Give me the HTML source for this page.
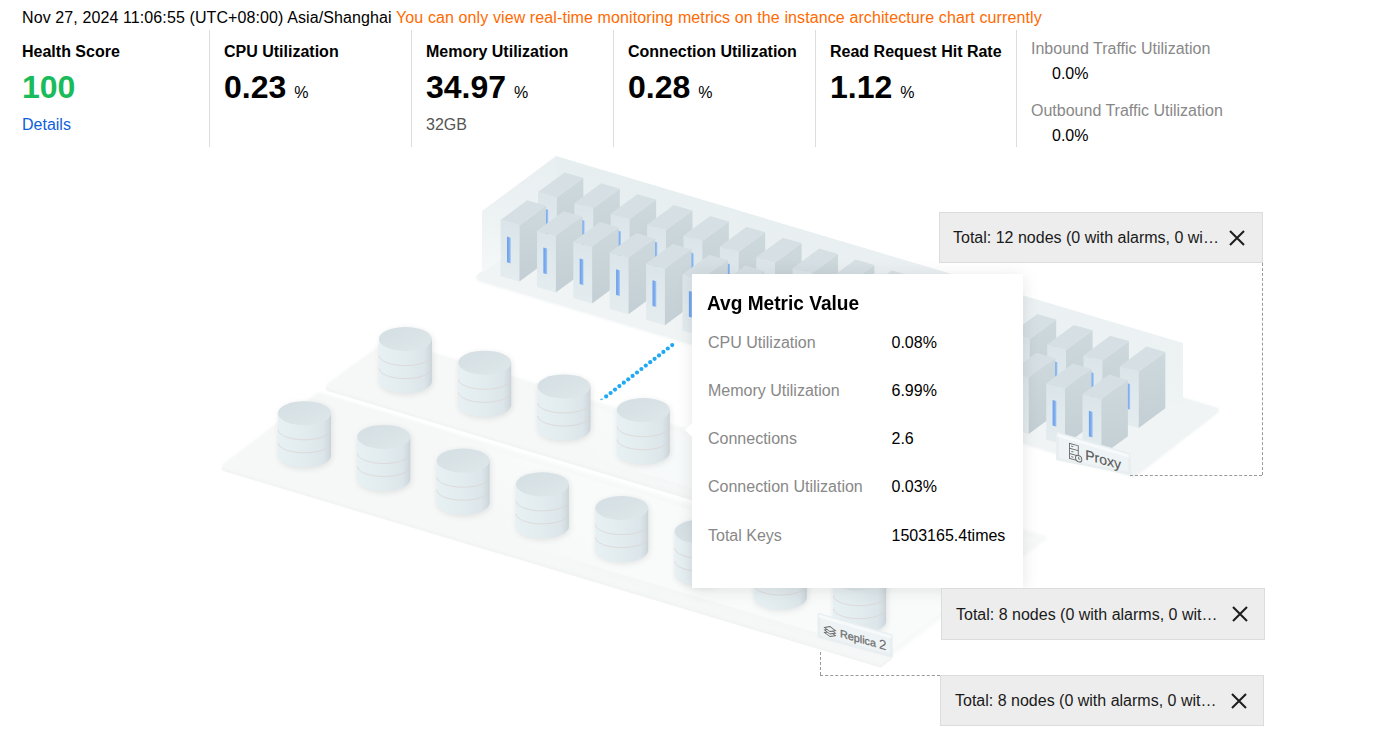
<!DOCTYPE html>
<html><head><meta charset="utf-8">
<style>
html,body{margin:0;padding:0;background:#fff;width:1389px;height:729px;overflow:hidden;position:relative;font-family:"Liberation Sans",sans-serif;color:#000}
.t{position:absolute;white-space:nowrap;line-height:1;font-size:16px}
.b{font-weight:700}
.vd{position:absolute;width:1px;background:#dddddd;top:30px;height:117px}
.big{font-size:32px;font-weight:700}
.pct{font-size:16px;font-weight:400;margin-left:8px}
.gray{color:#888}
.tip{position:absolute;left:692px;top:274px;width:331px;height:314px;background:#fff;box-shadow:0 2px 16px rgba(0,0,0,.10)}
.tip .t{}
.box{position:absolute;background:#ededed;border:1px solid #dcdcdc;box-sizing:border-box}
.box .t{color:#1a1a1a}
.x{position:absolute;width:16px;height:16px}
.dash{position:absolute;border:0 dashed #9a9a9a}
</style></head><body>
<div class="t" style="left:22px;top:9.5px;letter-spacing:0.105px">Nov 27, 2024 11:06:55 (UTC+08:00) Asia/Shanghai <span style="color:#ff6a00">You can only view real-time monitoring metrics on the instance architecture chart currently</span></div>

<div class="vd" style="left:209px"></div>
<div class="vd" style="left:411px"></div>
<div class="vd" style="left:613px"></div>
<div class="vd" style="left:815px"></div>
<div class="vd" style="left:1016px"></div>

<div class="t b" style="left:22px;top:44.3px">Health Score</div>
<div class="t big" style="left:22px;top:70.8px;color:#19bb5a">100</div>
<div class="t" style="left:22px;top:117px;color:#0f5fdc">Details</div>

<div class="t b" style="left:224px;top:44.3px">CPU Utilization</div>
<div class="t big" style="left:224px;top:70.8px">0.23<span class="pct">%</span></div>

<div class="t b" style="left:426px;top:44.3px">Memory Utilization</div>
<div class="t big" style="left:426px;top:70.8px">34.97<span class="pct">%</span></div>
<div class="t" style="left:426px;top:117px;color:#555">32GB</div>

<div class="t b" style="left:628px;top:44.3px">Connection Utilization</div>
<div class="t big" style="left:628px;top:70.8px">0.28<span class="pct">%</span></div>

<div class="t b" style="left:830px;top:44.3px">Read Request Hit Rate</div>
<div class="t big" style="left:830px;top:70.8px">1.12<span class="pct">%</span></div>

<div class="t gray" style="left:1031px;top:40.7px">Inbound Traffic Utilization</div>
<div class="t" style="left:1052px;top:66.3px">0.0%</div>
<div class="t gray" style="left:1031px;top:102.5px">Outbound Traffic Utilization</div>
<div class="t" style="left:1052px;top:127.5px">0.0%</div>

<svg width="1389" height="729" viewBox="0 0 1389 729" style="position:absolute;left:0;top:0"><defs>
<linearGradient id="srvFront" x1="0" y1="0" x2="0" y2="1">
  <stop offset="0" stop-color="#dbe5e9"/><stop offset="1" stop-color="#e4ecef"/></linearGradient>
<linearGradient id="srvSide" x1="0" y1="0" x2="0" y2="1">
  <stop offset="0" stop-color="#ced9dd"/><stop offset="1" stop-color="#c3cfd4"/></linearGradient>
<linearGradient id="led" x1="0" y1="0" x2="1" y2="0">
  <stop offset="0" stop-color="#6a9de8"/><stop offset="0.6" stop-color="#80b0f0"/><stop offset="1" stop-color="#a4c8f4"/></linearGradient>
<linearGradient id="cylBody" x1="0" y1="0" x2="1" y2="0">
  <stop offset="0" stop-color="#e7f0f3"/><stop offset="0.5" stop-color="#e2ebee"/><stop offset="0.85" stop-color="#dce5e9"/><stop offset="0.95" stop-color="#d2dce0"/><stop offset="1" stop-color="#c8d2d7"/></linearGradient>
<linearGradient id="cylTop" x1="0" y1="0" x2="1" y2="1">
  <stop offset="0" stop-color="#d4dfe3"/><stop offset="1" stop-color="#dee7ea"/></linearGradient>
<filter id="blur3" x="-50%" y="-50%" width="200%" height="200%"><feGaussianBlur stdDeviation="3"/></filter>
<filter id="blur1" x="-10%" y="-10%" width="120%" height="120%"><feGaussianBlur stdDeviation="1"/></filter>
<filter id="blur2" x="-50%" y="-50%" width="200%" height="200%"><feGaussianBlur stdDeviation="1.5"/></filter>
<linearGradient id="gLow" gradientUnits="userSpaceOnUse" x1="421.5" y1="527.8" x2="515.5" y2="450.8"><stop offset="0" stop-color="#f6f8f8"/><stop offset="0.45" stop-color="#f6f8f8"/><stop offset="1" stop-color="#f6f8f8" stop-opacity="0.7"/></linearGradient><linearGradient id="gUp" gradientUnits="userSpaceOnUse" x1="525.5" y1="447.8" x2="585.5" y2="397.8"><stop offset="0" stop-color="#f6f8f8"/><stop offset="0.45" stop-color="#f6f8f8"/><stop offset="1" stop-color="#f6f8f8" stop-opacity="0.8"/></linearGradient><linearGradient id="glass" x1="0" y1="0" x2="0" y2="1"><stop offset="0" stop-color="#e7eef0"/><stop offset="1" stop-color="#eef3f4"/></linearGradient><linearGradient id="glassL" x1="0" y1="0" x2="0" y2="1"><stop offset="0" stop-color="#e8eff1"/><stop offset="0.6" stop-color="#eef3f4"/><stop offset="1" stop-color="#f5f8f8"/></linearGradient></defs><polygon points="225.0,468.5 880.0,664.5 889.4,657.4 234.4,461.4" fill="#f2f4f4" stroke="#f2f4f4" stroke-width="6" stroke-linejoin="round"/><polygon points="225.0,466.0 880.0,662.0 974.0,591.0 319.0,395.0" fill="url(#gLow)" stroke="url(#gLow)" stroke-width="6" stroke-linejoin="round" filter="url(#blur1)"/><polygon points="329.0,388.5 984.0,584.5 990.0,580.1 335.0,384.1" fill="#f2f4f4" stroke="#f2f4f4" stroke-width="6" stroke-linejoin="round"/><polygon points="329.0,386.0 984.0,582.0 1044.0,538.0 389.0,342.0" fill="url(#gUp)" stroke="url(#gUp)" stroke-width="6" stroke-linejoin="round" filter="url(#blur1)"/><polygon points="479.0,278.5 1134.0,474.5 1216.0,410.5 561.0,214.5" fill="#e9eef0" stroke="#e9eef0" stroke-width="5" stroke-linejoin="round" filter="url(#blur2)" opacity="0.8"/><polygon points="479.0,276.5 1134.0,472.5 1216.0,410.5 561.0,214.5" fill="#f0f4f5" stroke="#f0f4f5" stroke-width="5" stroke-linejoin="round"/><polygon points="556.0,156.0 1183.0,343.0 1183.0,405.0 556.0,218.0" fill="url(#glass)"/><polygon points="482.0,211.0 556.0,156.0 556.0,218.0 482.0,273.0" fill="url(#glassL)"/><polygon points="538.0,192.0 556.8,197.4 556.8,253.7 538.0,248.3" fill="url(#srvFront)"/><polygon points="556.8,197.4 583.4,177.8 583.4,234.1 556.8,253.7" fill="url(#srvSide)"/><polygon points="538.0,192.0 564.6,172.4 583.4,177.8 556.8,197.4" fill="#d6e0e4"/><polygon points="544.4,208.7 548.2,209.8 548.2,235.5 544.4,234.4" fill="url(#led)"/><polygon points="574.4,202.9 593.2,208.3 593.2,264.6 574.4,259.2" fill="url(#srvFront)"/><polygon points="593.2,208.3 619.8,188.7 619.8,245.0 593.2,264.6" fill="url(#srvSide)"/><polygon points="574.4,202.9 601.0,183.3 619.8,188.7 593.2,208.3" fill="#d6e0e4"/><polygon points="580.8,219.6 584.6,220.7 584.6,246.4 580.8,245.3" fill="url(#led)"/><polygon points="610.7,213.8 629.5,219.2 629.5,275.5 610.7,270.1" fill="url(#srvFront)"/><polygon points="629.5,219.2 656.1,199.6 656.1,255.9 629.5,275.5" fill="url(#srvSide)"/><polygon points="610.7,213.8 637.3,194.2 656.1,199.6 629.5,219.2" fill="#d6e0e4"/><polygon points="617.1,230.5 620.9,231.6 620.9,257.3 617.1,256.2" fill="url(#led)"/><polygon points="647.1,224.7 665.9,230.1 665.9,286.4 647.1,281.0" fill="url(#srvFront)"/><polygon points="665.9,230.1 692.5,210.5 692.5,266.8 665.9,286.4" fill="url(#srvSide)"/><polygon points="647.1,224.7 673.7,205.1 692.5,210.5 665.9,230.1" fill="#d6e0e4"/><polygon points="653.5,241.4 657.3,242.5 657.3,268.2 653.5,267.1" fill="url(#led)"/><polygon points="683.5,235.6 702.3,241.0 702.3,297.3 683.5,291.9" fill="url(#srvFront)"/><polygon points="702.3,241.0 728.9,221.4 728.9,277.7 702.3,297.3" fill="url(#srvSide)"/><polygon points="683.5,235.6 710.1,216.0 728.9,221.4 702.3,241.0" fill="#d6e0e4"/><polygon points="689.9,252.3 693.7,253.4 693.7,279.1 689.9,278.0" fill="url(#led)"/><polygon points="719.9,246.4 738.6,251.8 738.6,308.1 719.9,302.8" fill="url(#srvFront)"/><polygon points="738.6,251.8 765.2,232.2 765.2,288.6 738.6,308.1" fill="url(#srvSide)"/><polygon points="719.9,246.4 746.5,226.8 765.2,232.2 738.6,251.8" fill="#d6e0e4"/><polygon points="726.2,263.1 730.0,264.2 730.0,289.9 726.2,288.8" fill="url(#led)"/><polygon points="756.2,257.3 775.0,262.7 775.0,319.0 756.2,313.6" fill="url(#srvFront)"/><polygon points="775.0,262.7 801.6,243.1 801.6,299.4 775.0,319.0" fill="url(#srvSide)"/><polygon points="756.2,257.3 782.8,237.7 801.6,243.1 775.0,262.7" fill="#d6e0e4"/><polygon points="762.6,274.0 766.4,275.1 766.4,300.8 762.6,299.7" fill="url(#led)"/><polygon points="792.6,268.2 811.4,273.6 811.4,329.9 792.6,324.5" fill="url(#srvFront)"/><polygon points="811.4,273.6 838.0,254.0 838.0,310.3 811.4,329.9" fill="url(#srvSide)"/><polygon points="792.6,268.2 819.2,248.6 838.0,254.0 811.4,273.6" fill="#d6e0e4"/><polygon points="799.0,284.9 802.8,286.0 802.8,311.7 799.0,310.6" fill="url(#led)"/><polygon points="829.0,279.1 847.8,284.5 847.8,340.8 829.0,335.4" fill="url(#srvFront)"/><polygon points="847.8,284.5 874.4,264.9 874.4,321.2 847.8,340.8" fill="url(#srvSide)"/><polygon points="829.0,279.1 855.6,259.5 874.4,264.9 847.8,284.5" fill="#d6e0e4"/><polygon points="835.4,295.8 839.2,296.9 839.2,322.6 835.4,321.5" fill="url(#led)"/><polygon points="865.3,290.0 884.1,295.4 884.1,351.7 865.3,346.3" fill="url(#srvFront)"/><polygon points="884.1,295.4 910.7,275.8 910.7,332.1 884.1,351.7" fill="url(#srvSide)"/><polygon points="865.3,290.0 891.9,270.4 910.7,275.8 884.1,295.4" fill="#d6e0e4"/><polygon points="871.7,306.7 875.5,307.8 875.5,333.5 871.7,332.4" fill="url(#led)"/><polygon points="901.7,300.9 920.5,306.3 920.5,362.6 901.7,357.2" fill="url(#srvFront)"/><polygon points="920.5,306.3 947.1,286.7 947.1,343.0 920.5,362.6" fill="url(#srvSide)"/><polygon points="901.7,300.9 928.3,281.3 947.1,286.7 920.5,306.3" fill="#d6e0e4"/><polygon points="908.1,317.6 911.9,318.7 911.9,344.4 908.1,343.3" fill="url(#led)"/><polygon points="938.1,311.8 956.9,317.2 956.9,373.5 938.1,368.1" fill="url(#srvFront)"/><polygon points="956.9,317.2 983.5,297.6 983.5,353.9 956.9,373.5" fill="url(#srvSide)"/><polygon points="938.1,311.8 964.7,292.2 983.5,297.6 956.9,317.2" fill="#d6e0e4"/><polygon points="944.5,328.5 948.3,329.6 948.3,355.3 944.5,354.2" fill="url(#led)"/><polygon points="974.4,322.7 993.2,328.1 993.2,384.4 974.4,379.0" fill="url(#srvFront)"/><polygon points="993.2,328.1 1019.8,308.5 1019.8,364.8 993.2,384.4" fill="url(#srvSide)"/><polygon points="974.4,322.7 1001.0,303.1 1019.8,308.5 993.2,328.1" fill="#d6e0e4"/><polygon points="980.8,339.4 984.6,340.5 984.6,366.2 980.8,365.1" fill="url(#led)"/><polygon points="1010.8,333.6 1029.6,339.0 1029.6,395.3 1010.8,389.9" fill="url(#srvFront)"/><polygon points="1029.6,339.0 1056.2,319.4 1056.2,375.7 1029.6,395.3" fill="url(#srvSide)"/><polygon points="1010.8,333.6 1037.4,314.0 1056.2,319.4 1029.6,339.0" fill="#d6e0e4"/><polygon points="1017.2,350.3 1021.0,351.4 1021.0,377.1 1017.2,376.0" fill="url(#led)"/><polygon points="1047.2,344.5 1066.0,349.9 1066.0,406.2 1047.2,400.8" fill="url(#srvFront)"/><polygon points="1066.0,349.9 1092.6,330.3 1092.6,386.6 1066.0,406.2" fill="url(#srvSide)"/><polygon points="1047.2,344.5 1073.8,324.9 1092.6,330.3 1066.0,349.9" fill="#d6e0e4"/><polygon points="1053.6,361.2 1057.4,362.3 1057.4,388.0 1053.6,386.9" fill="url(#led)"/><polygon points="1083.5,355.4 1102.3,360.8 1102.3,417.1 1083.5,411.7" fill="url(#srvFront)"/><polygon points="1102.3,360.8 1128.9,341.1 1128.9,397.4 1102.3,417.1" fill="url(#srvSide)"/><polygon points="1083.5,355.4 1110.1,335.8 1128.9,341.1 1102.3,360.8" fill="#d6e0e4"/><polygon points="1090.0,372.1 1093.8,373.1 1093.8,398.8 1090.0,397.8" fill="url(#led)"/><polygon points="1119.9,366.2 1138.7,371.6 1138.7,427.9 1119.9,422.5" fill="url(#srvFront)"/><polygon points="1138.7,371.6 1165.3,352.0 1165.3,408.3 1138.7,427.9" fill="url(#srvSide)"/><polygon points="1119.9,366.2 1146.5,346.6 1165.3,352.0 1138.7,371.6" fill="#d6e0e4"/><polygon points="1126.3,382.9 1130.1,384.0 1130.1,409.7 1126.3,408.6" fill="url(#led)"/><polygon points="500.6,219.9 519.4,225.3 519.4,281.6 500.6,276.2" fill="url(#srvFront)"/><polygon points="519.4,225.3 546.0,205.7 546.0,262.0 519.4,281.6" fill="url(#srvSide)"/><polygon points="500.6,219.9 527.2,200.3 546.0,205.7 519.4,225.3" fill="#d6e0e4"/><polygon points="507.0,236.6 510.8,237.7 510.8,263.4 507.0,262.3" fill="url(#led)"/><polygon points="537.0,230.8 555.8,236.2 555.8,292.5 537.0,287.1" fill="url(#srvFront)"/><polygon points="555.8,236.2 582.4,216.6 582.4,272.9 555.8,292.5" fill="url(#srvSide)"/><polygon points="537.0,230.8 563.6,211.2 582.4,216.6 555.8,236.2" fill="#d6e0e4"/><polygon points="543.4,247.5 547.2,248.6 547.2,274.3 543.4,273.2" fill="url(#led)"/><polygon points="573.3,241.7 592.1,247.1 592.1,303.4 573.3,298.0" fill="url(#srvFront)"/><polygon points="592.1,247.1 618.7,227.5 618.7,283.8 592.1,303.4" fill="url(#srvSide)"/><polygon points="573.3,241.7 599.9,222.1 618.7,227.5 592.1,247.1" fill="#d6e0e4"/><polygon points="579.7,258.4 583.5,259.5 583.5,285.2 579.7,284.1" fill="url(#led)"/><polygon points="609.7,252.6 628.5,258.0 628.5,314.3 609.7,308.9" fill="url(#srvFront)"/><polygon points="628.5,258.0 655.1,238.4 655.1,294.7 628.5,314.3" fill="url(#srvSide)"/><polygon points="609.7,252.6 636.3,233.0 655.1,238.4 628.5,258.0" fill="#d6e0e4"/><polygon points="616.1,269.3 619.9,270.4 619.9,296.1 616.1,295.0" fill="url(#led)"/><polygon points="646.1,263.5 664.9,268.9 664.9,325.2 646.1,319.8" fill="url(#srvFront)"/><polygon points="664.9,268.9 691.5,249.3 691.5,305.6 664.9,325.2" fill="url(#srvSide)"/><polygon points="646.1,263.5 672.7,243.9 691.5,249.3 664.9,268.9" fill="#d6e0e4"/><polygon points="652.5,280.2 656.3,281.3 656.3,307.0 652.5,305.9" fill="url(#led)"/><polygon points="682.5,274.4 701.2,279.8 701.2,336.1 682.5,330.7" fill="url(#srvFront)"/><polygon points="701.2,279.8 727.9,260.1 727.9,316.4 701.2,336.1" fill="url(#srvSide)"/><polygon points="682.5,274.4 709.1,254.8 727.9,260.1 701.2,279.8" fill="#d6e0e4"/><polygon points="688.9,291.1 692.6,292.1 692.6,317.8 688.9,316.8" fill="url(#led)"/><polygon points="718.8,285.2 737.6,290.6 737.6,346.9 718.8,341.5" fill="url(#srvFront)"/><polygon points="737.6,290.6 764.2,271.0 764.2,327.3 737.6,346.9" fill="url(#srvSide)"/><polygon points="718.8,285.2 745.4,265.6 764.2,271.0 737.6,290.6" fill="#d6e0e4"/><polygon points="725.2,301.9 729.0,303.0 729.0,328.7 725.2,327.6" fill="url(#led)"/><polygon points="755.2,296.1 774.0,301.5 774.0,357.8 755.2,352.4" fill="url(#srvFront)"/><polygon points="774.0,301.5 800.6,281.9 800.6,338.2 774.0,357.8" fill="url(#srvSide)"/><polygon points="755.2,296.1 781.8,276.5 800.6,281.9 774.0,301.5" fill="#d6e0e4"/><polygon points="761.6,312.8 765.4,313.9 765.4,339.6 761.6,338.5" fill="url(#led)"/><polygon points="791.6,307.0 810.4,312.4 810.4,368.7 791.6,363.3" fill="url(#srvFront)"/><polygon points="810.4,312.4 837.0,292.8 837.0,349.1 810.4,368.7" fill="url(#srvSide)"/><polygon points="791.6,307.0 818.2,287.4 837.0,292.8 810.4,312.4" fill="#d6e0e4"/><polygon points="798.0,323.7 801.8,324.8 801.8,350.5 798.0,349.4" fill="url(#led)"/><polygon points="827.9,317.9 846.7,323.3 846.7,379.6 827.9,374.2" fill="url(#srvFront)"/><polygon points="846.7,323.3 873.3,303.7 873.3,360.0 846.7,379.6" fill="url(#srvSide)"/><polygon points="827.9,317.9 854.5,298.3 873.3,303.7 846.7,323.3" fill="#d6e0e4"/><polygon points="834.3,334.6 838.1,335.7 838.1,361.4 834.3,360.3" fill="url(#led)"/><polygon points="864.3,328.8 883.1,334.2 883.1,390.5 864.3,385.1" fill="url(#srvFront)"/><polygon points="883.1,334.2 909.7,314.6 909.7,370.9 883.1,390.5" fill="url(#srvSide)"/><polygon points="864.3,328.8 890.9,309.2 909.7,314.6 883.1,334.2" fill="#d6e0e4"/><polygon points="870.7,345.5 874.5,346.6 874.5,372.3 870.7,371.2" fill="url(#led)"/><polygon points="900.7,339.7 919.5,345.1 919.5,401.4 900.7,396.0" fill="url(#srvFront)"/><polygon points="919.5,345.1 946.1,325.5 946.1,381.8 919.5,401.4" fill="url(#srvSide)"/><polygon points="900.7,339.7 927.3,320.1 946.1,325.5 919.5,345.1" fill="#d6e0e4"/><polygon points="907.1,356.4 910.9,357.5 910.9,383.2 907.1,382.1" fill="url(#led)"/><polygon points="937.0,350.6 955.8,356.0 955.8,412.3 937.0,406.9" fill="url(#srvFront)"/><polygon points="955.8,356.0 982.4,336.4 982.4,392.7 955.8,412.3" fill="url(#srvSide)"/><polygon points="937.0,350.6 963.6,331.0 982.4,336.4 955.8,356.0" fill="#d6e0e4"/><polygon points="943.4,367.3 947.2,368.4 947.2,394.1 943.4,393.0" fill="url(#led)"/><polygon points="973.4,361.5 992.2,366.9 992.2,423.2 973.4,417.8" fill="url(#srvFront)"/><polygon points="992.2,366.9 1018.8,347.3 1018.8,403.6 992.2,423.2" fill="url(#srvSide)"/><polygon points="973.4,361.5 1000.0,341.9 1018.8,347.3 992.2,366.9" fill="#d6e0e4"/><polygon points="979.8,378.2 983.6,379.3 983.6,405.0 979.8,403.9" fill="url(#led)"/><polygon points="1009.8,372.4 1028.6,377.8 1028.6,434.1 1009.8,428.7" fill="url(#srvFront)"/><polygon points="1028.6,377.8 1055.2,358.2 1055.2,414.5 1028.6,434.1" fill="url(#srvSide)"/><polygon points="1009.8,372.4 1036.4,352.8 1055.2,358.2 1028.6,377.8" fill="#d6e0e4"/><polygon points="1016.2,389.1 1020.0,390.2 1020.0,415.9 1016.2,414.8" fill="url(#led)"/><polygon points="1046.2,383.2 1065.0,388.6 1065.0,444.9 1046.2,439.6" fill="url(#srvFront)"/><polygon points="1065.0,388.6 1091.5,369.0 1091.5,425.3 1065.0,444.9" fill="url(#srvSide)"/><polygon points="1046.2,383.2 1072.8,363.6 1091.5,369.0 1065.0,388.6" fill="#d6e0e4"/><polygon points="1052.6,399.9 1056.4,401.0 1056.4,426.7 1052.6,425.6" fill="url(#led)"/><polygon points="1082.5,394.1 1101.3,399.5 1101.3,455.8 1082.5,450.4" fill="url(#srvFront)"/><polygon points="1101.3,399.5 1127.9,379.9 1127.9,436.2 1101.3,455.8" fill="url(#srvSide)"/><polygon points="1082.5,394.1 1109.1,374.5 1127.9,379.9 1101.3,399.5" fill="#d6e0e4"/><polygon points="1088.9,410.8 1092.7,411.9 1092.7,437.6 1088.9,436.5" fill="url(#led)"/><path d="M378.9,339.0 V381.2 A26.5,12.0 0 0 0 431.9,381.2 V339.0 A26.5,12.0 0 0 0 378.9,339.0 Z" fill="#000" opacity="0.09" filter="url(#blur3)" transform="translate(1,1.5)"/><path d="M378.9,339.0 V381.2 A26.5,12.0 0 0 0 431.9,381.2 V339.0 Z" fill="url(#cylBody)"/><path d="M379.2,355.6 A26.2,10 0 0 0 431.6,355.6" fill="none" stroke="#dbd3d0" stroke-width="0.7"/><path d="M379.2,368.6 A26.2,10 0 0 0 431.6,368.6" fill="none" stroke="#dbd3d0" stroke-width="0.7"/><ellipse cx="405.4" cy="339.0" rx="26.5" ry="12.0" fill="url(#cylTop)"/><path d="M458.2,362.7 V404.9 A26.5,12.0 0 0 0 511.2,404.9 V362.7 A26.5,12.0 0 0 0 458.2,362.7 Z" fill="#000" opacity="0.09" filter="url(#blur3)" transform="translate(1,1.5)"/><path d="M458.2,362.7 V404.9 A26.5,12.0 0 0 0 511.2,404.9 V362.7 Z" fill="url(#cylBody)"/><path d="M458.5,379.3 A26.2,10 0 0 0 510.9,379.3" fill="none" stroke="#dbd3d0" stroke-width="0.7"/><path d="M458.5,392.3 A26.2,10 0 0 0 510.9,392.3" fill="none" stroke="#dbd3d0" stroke-width="0.7"/><ellipse cx="484.7" cy="362.7" rx="26.5" ry="12.0" fill="url(#cylTop)"/><path d="M537.5,386.4 V428.6 A26.5,12.0 0 0 0 590.5,428.6 V386.4 A26.5,12.0 0 0 0 537.5,386.4 Z" fill="#000" opacity="0.09" filter="url(#blur3)" transform="translate(1,1.5)"/><path d="M537.5,386.4 V428.6 A26.5,12.0 0 0 0 590.5,428.6 V386.4 Z" fill="url(#cylBody)"/><path d="M537.8,403.0 A26.2,10 0 0 0 590.2,403.0" fill="none" stroke="#dbd3d0" stroke-width="0.7"/><path d="M537.8,416.0 A26.2,10 0 0 0 590.2,416.0" fill="none" stroke="#dbd3d0" stroke-width="0.7"/><ellipse cx="564.0" cy="386.4" rx="26.5" ry="12.0" fill="url(#cylTop)"/><path d="M616.8,410.1 V452.3 A26.5,12.0 0 0 0 669.8,452.3 V410.1 A26.5,12.0 0 0 0 616.8,410.1 Z" fill="#000" opacity="0.09" filter="url(#blur3)" transform="translate(1,1.5)"/><path d="M616.8,410.1 V452.3 A26.5,12.0 0 0 0 669.8,452.3 V410.1 Z" fill="url(#cylBody)"/><path d="M617.1,426.7 A26.2,10 0 0 0 669.5,426.7" fill="none" stroke="#dbd3d0" stroke-width="0.7"/><path d="M617.1,439.7 A26.2,10 0 0 0 669.5,439.7" fill="none" stroke="#dbd3d0" stroke-width="0.7"/><ellipse cx="643.3" cy="410.1" rx="26.5" ry="12.0" fill="url(#cylTop)"/><path d="M696.1,433.8 V476.0 A26.5,12.0 0 0 0 749.1,476.0 V433.8 A26.5,12.0 0 0 0 696.1,433.8 Z" fill="#000" opacity="0.09" filter="url(#blur3)" transform="translate(1,1.5)"/><path d="M696.1,433.8 V476.0 A26.5,12.0 0 0 0 749.1,476.0 V433.8 Z" fill="url(#cylBody)"/><path d="M696.4,450.4 A26.2,10 0 0 0 748.8,450.4" fill="none" stroke="#dbd3d0" stroke-width="0.7"/><path d="M696.4,463.4 A26.2,10 0 0 0 748.8,463.4" fill="none" stroke="#dbd3d0" stroke-width="0.7"/><ellipse cx="722.6" cy="433.8" rx="26.5" ry="12.0" fill="url(#cylTop)"/><path d="M775.4,457.5 V499.7 A26.5,12.0 0 0 0 828.4,499.7 V457.5 A26.5,12.0 0 0 0 775.4,457.5 Z" fill="#000" opacity="0.09" filter="url(#blur3)" transform="translate(1,1.5)"/><path d="M775.4,457.5 V499.7 A26.5,12.0 0 0 0 828.4,499.7 V457.5 Z" fill="url(#cylBody)"/><path d="M775.7,474.1 A26.2,10 0 0 0 828.1,474.1" fill="none" stroke="#dbd3d0" stroke-width="0.7"/><path d="M775.7,487.1 A26.2,10 0 0 0 828.1,487.1" fill="none" stroke="#dbd3d0" stroke-width="0.7"/><ellipse cx="801.9" cy="457.5" rx="26.5" ry="12.0" fill="url(#cylTop)"/><path d="M854.7,481.2 V523.4 A26.5,12.0 0 0 0 907.7,523.4 V481.2 A26.5,12.0 0 0 0 854.7,481.2 Z" fill="#000" opacity="0.09" filter="url(#blur3)" transform="translate(1,1.5)"/><path d="M854.7,481.2 V523.4 A26.5,12.0 0 0 0 907.7,523.4 V481.2 Z" fill="url(#cylBody)"/><path d="M855.0,497.8 A26.2,10 0 0 0 907.4,497.8" fill="none" stroke="#dbd3d0" stroke-width="0.7"/><path d="M855.0,510.8 A26.2,10 0 0 0 907.4,510.8" fill="none" stroke="#dbd3d0" stroke-width="0.7"/><ellipse cx="881.2" cy="481.2" rx="26.5" ry="12.0" fill="url(#cylTop)"/><path d="M934.0,504.9 V547.1 A26.5,12.0 0 0 0 987.0,547.1 V504.9 A26.5,12.0 0 0 0 934.0,504.9 Z" fill="#000" opacity="0.09" filter="url(#blur3)" transform="translate(1,1.5)"/><path d="M934.0,504.9 V547.1 A26.5,12.0 0 0 0 987.0,547.1 V504.9 Z" fill="url(#cylBody)"/><path d="M934.3,521.5 A26.2,10 0 0 0 986.7,521.5" fill="none" stroke="#dbd3d0" stroke-width="0.7"/><path d="M934.3,534.5 A26.2,10 0 0 0 986.7,534.5" fill="none" stroke="#dbd3d0" stroke-width="0.7"/><ellipse cx="960.5" cy="504.9" rx="26.5" ry="12.0" fill="url(#cylTop)"/><path d="M278.0,413.2 V455.4 A26.5,12.0 0 0 0 331.0,455.4 V413.2 A26.5,12.0 0 0 0 278.0,413.2 Z" fill="#000" opacity="0.09" filter="url(#blur3)" transform="translate(1,1.5)"/><path d="M278.0,413.2 V455.4 A26.5,12.0 0 0 0 331.0,455.4 V413.2 Z" fill="url(#cylBody)"/><path d="M278.3,429.8 A26.2,10 0 0 0 330.7,429.8" fill="none" stroke="#dbd3d0" stroke-width="0.7"/><path d="M278.3,442.8 A26.2,10 0 0 0 330.7,442.8" fill="none" stroke="#dbd3d0" stroke-width="0.7"/><ellipse cx="304.5" cy="413.2" rx="26.5" ry="12.0" fill="url(#cylTop)"/><path d="M357.3,436.9 V479.1 A26.5,12.0 0 0 0 410.3,479.1 V436.9 A26.5,12.0 0 0 0 357.3,436.9 Z" fill="#000" opacity="0.09" filter="url(#blur3)" transform="translate(1,1.5)"/><path d="M357.3,436.9 V479.1 A26.5,12.0 0 0 0 410.3,479.1 V436.9 Z" fill="url(#cylBody)"/><path d="M357.6,453.5 A26.2,10 0 0 0 410.0,453.5" fill="none" stroke="#dbd3d0" stroke-width="0.7"/><path d="M357.6,466.5 A26.2,10 0 0 0 410.0,466.5" fill="none" stroke="#dbd3d0" stroke-width="0.7"/><ellipse cx="383.8" cy="436.9" rx="26.5" ry="12.0" fill="url(#cylTop)"/><path d="M436.6,460.6 V502.8 A26.5,12.0 0 0 0 489.6,502.8 V460.6 A26.5,12.0 0 0 0 436.6,460.6 Z" fill="#000" opacity="0.09" filter="url(#blur3)" transform="translate(1,1.5)"/><path d="M436.6,460.6 V502.8 A26.5,12.0 0 0 0 489.6,502.8 V460.6 Z" fill="url(#cylBody)"/><path d="M436.9,477.2 A26.2,10 0 0 0 489.3,477.2" fill="none" stroke="#dbd3d0" stroke-width="0.7"/><path d="M436.9,490.2 A26.2,10 0 0 0 489.3,490.2" fill="none" stroke="#dbd3d0" stroke-width="0.7"/><ellipse cx="463.1" cy="460.6" rx="26.5" ry="12.0" fill="url(#cylTop)"/><path d="M515.9,484.3 V526.5 A26.5,12.0 0 0 0 568.9,526.5 V484.3 A26.5,12.0 0 0 0 515.9,484.3 Z" fill="#000" opacity="0.09" filter="url(#blur3)" transform="translate(1,1.5)"/><path d="M515.9,484.3 V526.5 A26.5,12.0 0 0 0 568.9,526.5 V484.3 Z" fill="url(#cylBody)"/><path d="M516.2,500.9 A26.2,10 0 0 0 568.6,500.9" fill="none" stroke="#dbd3d0" stroke-width="0.7"/><path d="M516.2,513.9 A26.2,10 0 0 0 568.6,513.9" fill="none" stroke="#dbd3d0" stroke-width="0.7"/><ellipse cx="542.4" cy="484.3" rx="26.5" ry="12.0" fill="url(#cylTop)"/><path d="M595.2,508.0 V550.2 A26.5,12.0 0 0 0 648.2,550.2 V508.0 A26.5,12.0 0 0 0 595.2,508.0 Z" fill="#000" opacity="0.09" filter="url(#blur3)" transform="translate(1,1.5)"/><path d="M595.2,508.0 V550.2 A26.5,12.0 0 0 0 648.2,550.2 V508.0 Z" fill="url(#cylBody)"/><path d="M595.5,524.6 A26.2,10 0 0 0 647.9,524.6" fill="none" stroke="#dbd3d0" stroke-width="0.7"/><path d="M595.5,537.6 A26.2,10 0 0 0 647.9,537.6" fill="none" stroke="#dbd3d0" stroke-width="0.7"/><ellipse cx="621.7" cy="508.0" rx="26.5" ry="12.0" fill="url(#cylTop)"/><path d="M674.5,531.7 V573.9 A26.5,12.0 0 0 0 727.5,573.9 V531.7 A26.5,12.0 0 0 0 674.5,531.7 Z" fill="#000" opacity="0.09" filter="url(#blur3)" transform="translate(1,1.5)"/><path d="M674.5,531.7 V573.9 A26.5,12.0 0 0 0 727.5,573.9 V531.7 Z" fill="url(#cylBody)"/><path d="M674.8,548.3 A26.2,10 0 0 0 727.2,548.3" fill="none" stroke="#dbd3d0" stroke-width="0.7"/><path d="M674.8,561.3 A26.2,10 0 0 0 727.2,561.3" fill="none" stroke="#dbd3d0" stroke-width="0.7"/><ellipse cx="701.0" cy="531.7" rx="26.5" ry="12.0" fill="url(#cylTop)"/><path d="M753.8,555.4 V597.6 A26.5,12.0 0 0 0 806.8,597.6 V555.4 A26.5,12.0 0 0 0 753.8,555.4 Z" fill="#000" opacity="0.09" filter="url(#blur3)" transform="translate(1,1.5)"/><path d="M753.8,555.4 V597.6 A26.5,12.0 0 0 0 806.8,597.6 V555.4 Z" fill="url(#cylBody)"/><path d="M754.1,572.0 A26.2,10 0 0 0 806.5,572.0" fill="none" stroke="#dbd3d0" stroke-width="0.7"/><path d="M754.1,585.0 A26.2,10 0 0 0 806.5,585.0" fill="none" stroke="#dbd3d0" stroke-width="0.7"/><ellipse cx="780.3" cy="555.4" rx="26.5" ry="12.0" fill="url(#cylTop)"/><path d="M833.1,579.1 V621.3 A26.5,12.0 0 0 0 886.1,621.3 V579.1 A26.5,12.0 0 0 0 833.1,579.1 Z" fill="#000" opacity="0.09" filter="url(#blur3)" transform="translate(1,1.5)"/><path d="M833.1,579.1 V621.3 A26.5,12.0 0 0 0 886.1,621.3 V579.1 Z" fill="url(#cylBody)"/><path d="M833.4,595.7 A26.2,10 0 0 0 885.8,595.7" fill="none" stroke="#dbd3d0" stroke-width="0.7"/><path d="M833.4,608.7 A26.2,10 0 0 0 885.8,608.7" fill="none" stroke="#dbd3d0" stroke-width="0.7"/><ellipse cx="859.6" cy="579.1" rx="26.5" ry="12.0" fill="url(#cylTop)"/><circle cx="606.2" cy="396.4" r="2.1" fill="#1fa9f4"/><circle cx="610.6" cy="393.0" r="2.1" fill="#1fa9f4"/><circle cx="615.0" cy="389.6" r="2.1" fill="#1fa9f4"/><circle cx="619.4" cy="386.1" r="2.1" fill="#1fa9f4"/><circle cx="623.8" cy="382.7" r="2.1" fill="#1fa9f4"/><circle cx="628.2" cy="379.3" r="2.1" fill="#1fa9f4"/><circle cx="632.6" cy="375.9" r="2.1" fill="#1fa9f4"/><circle cx="637.0" cy="372.5" r="2.1" fill="#1fa9f4"/><circle cx="641.4" cy="369.0" r="2.1" fill="#1fa9f4"/><circle cx="645.8" cy="365.6" r="2.1" fill="#1fa9f4"/><circle cx="650.2" cy="362.2" r="2.1" fill="#1fa9f4"/><circle cx="654.6" cy="358.8" r="2.1" fill="#1fa9f4"/><circle cx="659.0" cy="355.4" r="2.1" fill="#1fa9f4"/><circle cx="663.4" cy="351.9" r="2.1" fill="#1fa9f4"/><circle cx="667.8" cy="348.5" r="2.1" fill="#1fa9f4"/><circle cx="672.2" cy="345.1" r="2.1" fill="#1fa9f4"/><ellipse cx="601.6" cy="399.3" rx="1.4" ry="0.9" fill="#1fa9f4" opacity="0.8"/><polygon points="1057.5,433.5 1129,454.5 1130,473.5 1057.5,459" fill="#eef4f6" stroke="#e9eff1" stroke-width="3" stroke-linejoin="round"/><polygon points="1057.5,433.5 1129,454.5 1129,457.5 1057.5,436.5" fill="#f7fafb"/><g transform="translate(1085.2,459.5) skewY(15.5)"><text x="0" y="0" font-family="Liberation Sans" font-size="14" fill="#5a5a5a" stroke="#5a5a5a" stroke-width="0.15">Proxy</text></g><g transform="translate(1069,442.8) skewY(15.5) scale(0.88)" fill="none" stroke="#666" stroke-width="1"><rect x="0.5" y="0.5" width="10" height="17"/><path d="M0.5 6H10.5M0.5 12H10.5M2.5 3H5M2.5 9H5M2.5 15H5"/><circle cx="11" cy="15" r="3.6" fill="#edf2f4"/><path d="M11 13V15.3H12.8"/></g><polygon points="819,614.5 891,635.5 891.5,656 819,636.5" fill="#eef4f6" stroke="#e9eff1" stroke-width="3" stroke-linejoin="round"/><polygon points="819,614.5 891,635.5 891,638.5 819,617.5" fill="#f7fafb"/><g transform="translate(840,637) skewY(16)"><text x="0" y="0" font-family="Liberation Sans" font-size="10.8" font-weight="400" fill="#707070" stroke="#707070" stroke-width="0.3">Replica <tspan font-size="13.5" stroke-width="0.1">2</tspan></text></g><g transform="translate(824.5,625) skewY(16)" fill="#edf2f4" stroke="#666" stroke-width="0.9"><path d="M0 7.5L5.5 5L11 7.5L5.5 10Z"/><path d="M0 5L5.5 2.5L11 5L5.5 7.5Z"/><path d="M0 2.5L5.5 0L11 2.5L5.5 5Z"/></g></svg>

<div class="tip"><div style="position:absolute;left:-7px;top:148.5px;width:0;height:0;border-top:7.5px solid transparent;border-bottom:7.5px solid transparent;border-right:7px solid #fff"></div>
  <div class="t b" style="left:15px;top:19px;font-size:20px;transform:scaleX(0.955);transform-origin:0 0">Avg Metric Value</div>
  <div class="t gray" style="left:16px;top:60.9px">CPU Utilization</div>
  <div class="t" style="left:199.5px;top:60.9px">0.08%</div>
  <div class="t gray" style="left:16px;top:109px">Memory Utilization</div>
  <div class="t" style="left:199.5px;top:109px">6.99%</div>
  <div class="t gray" style="left:16px;top:157.2px">Connections</div>
  <div class="t" style="left:199.5px;top:157.2px">2.6</div>
  <div class="t gray" style="left:16px;top:205.4px">Connection Utilization</div>
  <div class="t" style="left:199.5px;top:205.4px">0.03%</div>
  <div class="t gray" style="left:16px;top:253.6px">Total Keys</div>
  <div class="t" style="left:199.5px;top:253.6px">1503165.4times</div>
</div>

<div class="box" style="left:939px;top:212px;width:324px;height:51px">
  <div class="t" style="left:13px;top:17.3px">Total: 12 nodes (0 with alarms, 0 wi…</div>
  <svg class="x" style="left:289px;top:16.5px" viewBox="0 0 16 16"><path d="M1 1L15 15M15 1L1 15" stroke="#1f1f1f" stroke-width="2.1"/></svg>
</div>
<div class="box" style="left:941px;top:588px;width:324px;height:52px">
  <div class="t" style="left:14px;top:18.3px">Total: 8 nodes (0 with alarms, 0 wit…</div>
  <svg class="x" style="left:290px;top:16.5px" viewBox="0 0 16 16"><path d="M1 1L15 15M15 1L1 15" stroke="#1f1f1f" stroke-width="2.1"/></svg>
</div>
<div class="box" style="left:940px;top:675px;width:324px;height:51px">
  <div class="t" style="left:14px;top:17.3px">Total: 8 nodes (0 with alarms, 0 wit…</div>
  <svg class="x" style="left:290px;top:16.5px" viewBox="0 0 16 16"><path d="M1 1L15 15M15 1L1 15" stroke="#1f1f1f" stroke-width="2.1"/></svg>
</div>

<div class="dash" style="left:1262px;top:263px;height:212px;width:0;border-left-width:1px"></div>
<div class="dash" style="left:1130px;top:475px;width:132px;height:0;border-top-width:1px"></div>
<div class="dash" style="left:820px;top:652px;height:23px;width:0;border-left-width:1px"></div>
<div class="dash" style="left:820px;top:675px;width:120px;height:0;border-top-width:1px"></div>
</body></html>
